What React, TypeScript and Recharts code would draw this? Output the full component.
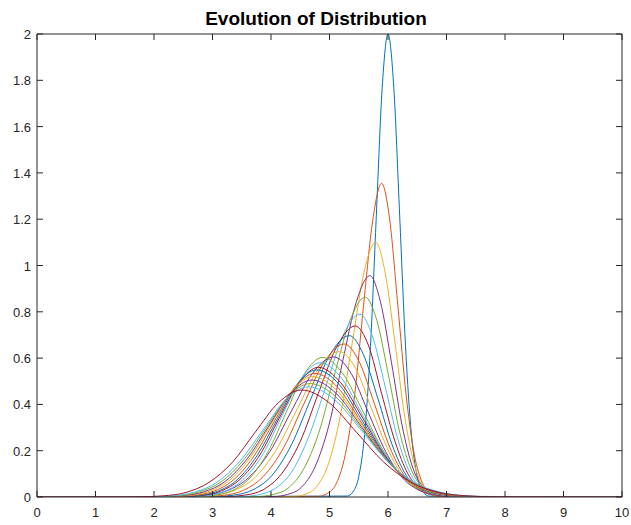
import { LineChart, Line, XAxis, YAxis } from 'recharts'

// ─── Data ────────────────────────────────────────────────────────────────────

type Pair = [number, number]

const c01: Pair[] = [[0, 0], [5.3, 0.004], [5.4, 0.022], [5.5, 0.088], [5.6, 0.271], [5.7, 0.649], [5.8, 1.213], [5.9, 1.765], [6, 2], [6.1, 1.765], [6.2, 1.213], [6.3, 0.649], [6.4, 0.271], [6.5, 0.088], [6.6, 0.022], [6.7, 0.004], [10, 0]]
const c02: Pair[] = [[0, 0], [4.81, 0.003], [4.96, 0.015], [5.12, 0.06], [5.27, 0.183], [5.43, 0.44], [5.58, 0.822], [5.74, 1.196], [5.89, 1.355], [6.03, 1.196], [6.17, 0.822], [6.31, 0.44], [6.45, 0.183], [6.59, 0.06], [6.73, 0.015], [6.87, 0.003], [10, 0]]
const c03: Pair[] = [[0, 0], [4.39, 0.002], [4.59, 0.012], [4.79, 0.048], [4.99, 0.149], [5.19, 0.357], [5.39, 0.667], [5.59, 0.971], [5.79, 1.1], [5.95, 0.971], [6.12, 0.667], [6.28, 0.357], [6.44, 0.149], [6.6, 0.048], [6.77, 0.012], [6.93, 0.002], [10, 0]]
const c04: Pair[] = [[0, 0], [4.05, 0.002], [4.28, 0.011], [4.52, 0.042], [4.75, 0.129], [4.99, 0.31], [5.22, 0.58], [5.46, 0.844], [5.69, 0.956], [5.87, 0.844], [6.06, 0.58], [6.24, 0.31], [6.42, 0.129], [6.6, 0.042], [6.79, 0.011], [6.97, 0.002], [10, 0]]
const c05: Pair[] = [[0, 0], [3.76, 0.002], [4.02, 0.01], [4.29, 0.038], [4.55, 0.117], [4.82, 0.28], [5.08, 0.523], [5.35, 0.762], [5.61, 0.863], [5.81, 0.762], [6.01, 0.523], [6.2, 0.28], [6.4, 0.117], [6.6, 0.038], [6.8, 0.01], [6.99, 0.002], [10, 0]]
const c06: Pair[] = [[0, 0], [3.47, 0.002], [3.77, 0.009], [4.06, 0.035], [4.35, 0.107], [4.64, 0.257], [4.94, 0.479], [5.23, 0.697], [5.52, 0.79], [5.73, 0.697], [5.95, 0.479], [6.16, 0.257], [6.37, 0.107], [6.58, 0.035], [6.8, 0.009], [7.01, 0.002], [10, 0]]
const c07: Pair[] = [[0, 0], [3.24, 0.002], [3.55, 0.008], [3.87, 0.032], [4.18, 0.1], [4.5, 0.24], [4.81, 0.448], [5.13, 0.652], [5.44, 0.739], [5.67, 0.652], [5.89, 0.448], [6.12, 0.24], [6.34, 0.1], [6.57, 0.032], [6.79, 0.008], [7.02, 0.002], [10, 0]]
const c08: Pair[] = [[0, 0], [3.03, 0.002], [3.36, 0.008], [3.69, 0.031], [4.02, 0.094], [4.35, 0.226], [4.68, 0.423], [5.01, 0.615], [5.34, 0.697], [5.58, 0.615], [5.83, 0.423], [6.07, 0.226], [6.31, 0.094], [6.55, 0.031], [6.8, 0.008], [7.04, 0.002], [10, 0]]
const c09: Pair[] = [[0, 0], [2.84, 0.002], [3.18, 0.007], [3.53, 0.029], [3.87, 0.089], [4.22, 0.215], [4.56, 0.401], [4.91, 0.583], [5.25, 0.661], [5.51, 0.583], [5.77, 0.401], [6.03, 0.215], [6.29, 0.089], [6.55, 0.029], [6.81, 0.007], [7.07, 0.002], [10, 0]]
const c10: Pair[] = [[0, 0], [2.65, 0.001], [3.01, 0.007], [3.37, 0.028], [3.73, 0.085], [4.09, 0.204], [4.45, 0.381], [4.81, 0.554], [5.17, 0.628], [5.45, 0.554], [5.72, 0.381], [6.0, 0.204], [6.27, 0.085], [6.55, 0.028], [6.82, 0.007], [7.1, 0.001], [10, 0]]
const c11: Pair[] = [[0, 0], [2.52, 0.001], [2.88, 0.007], [3.25, 0.027], [3.61, 0.082], [3.98, 0.196], [4.34, 0.367], [4.71, 0.534], [5.07, 0.605], [5.37, 0.534], [5.66, 0.367], [5.96, 0.196], [6.25, 0.082], [6.55, 0.027], [6.84, 0.007], [7.14, 0.001], [10, 0]]
const c12: Pair[] = [[0, 0], [2.71, 0.001], [3.02, 0.007], [3.33, 0.027], [3.64, 0.082], [3.95, 0.196], [4.26, 0.366], [4.57, 0.532], [4.88, 0.603], [5.23, 0.532], [5.58, 0.366], [5.93, 0.196], [6.28, 0.082], [6.63, 0.027], [6.98, 0.007], [7.33, 0.001], [10, 0]]
const c13: Pair[] = [[0, 0], [2.57, 0.001], [2.89, 0.006], [3.22, 0.026], [3.54, 0.079], [3.87, 0.188], [4.19, 0.352], [4.52, 0.512], [4.84, 0.58], [5.21, 0.512], [5.57, 0.352], [5.94, 0.188], [6.3, 0.079], [6.67, 0.026], [7.03, 0.006], [7.4, 0.001], [10, 0]]
const c14: Pair[] = [[0, 0], [2.47, 0.001], [2.8, 0.006], [3.14, 0.025], [3.47, 0.076], [3.81, 0.182], [4.14, 0.34], [4.48, 0.494], [4.81, 0.56], [5.19, 0.494], [5.57, 0.34], [5.94, 0.182], [6.32, 0.076], [6.7, 0.025], [7.08, 0.006], [7.45, 0.001], [10, 0]]
const c15: Pair[] = [[0, 0], [2.4, 0.001], [2.74, 0.006], [3.08, 0.024], [3.42, 0.074], [3.76, 0.178], [4.1, 0.333], [4.44, 0.485], [4.78, 0.549], [5.17, 0.485], [5.55, 0.333], [5.94, 0.178], [6.32, 0.074], [6.71, 0.024], [7.09, 0.006], [7.48, 0.001], [10, 0]]
const c16: Pair[] = [[0, 0], [2.3, 0.001], [2.65, 0.006], [3.0, 0.023], [3.35, 0.072], [3.7, 0.173], [4.05, 0.324], [4.4, 0.471], [4.75, 0.534], [5.15, 0.471], [5.54, 0.324], [5.94, 0.173], [6.33, 0.072], [6.73, 0.023], [7.12, 0.006], [7.52, 0.001], [10, 0]]
const c17: Pair[] = [[0, 0], [2.2, 0.001], [2.56, 0.006], [2.92, 0.023], [3.28, 0.07], [3.64, 0.169], [4.0, 0.315], [4.36, 0.459], [4.72, 0.52], [5.13, 0.459], [5.54, 0.315], [5.94, 0.169], [6.35, 0.07], [6.76, 0.023], [7.17, 0.006], [7.57, 0.001], [10, 0]]
const c18: Pair[] = [[0, 0], [2.11, 0.001], [2.48, 0.006], [2.85, 0.022], [3.22, 0.068], [3.59, 0.164], [3.96, 0.306], [4.33, 0.446], [4.7, 0.505], [5.12, 0.446], [5.54, 0.306], [5.96, 0.164], [6.38, 0.068], [6.8, 0.022], [7.22, 0.006], [7.64, 0.001], [10, 0]]
const c19: Pair[] = [[0, 0], [2.01, 0.001], [2.39, 0.005], [2.77, 0.022], [3.15, 0.066], [3.53, 0.159], [3.91, 0.297], [4.29, 0.432], [4.67, 0.49], [5.11, 0.432], [5.54, 0.297], [5.98, 0.159], [6.41, 0.066], [6.85, 0.022], [7.28, 0.005], [7.72, 0.001], [10, 0]]
const c20: Pair[] = [[0, 0], [1.91, 0.001], [2.3, 0.005], [2.69, 0.021], [3.08, 0.064], [3.47, 0.155], [3.86, 0.289], [4.25, 0.42], [4.64, 0.476], [5.09, 0.42], [5.54, 0.289], [5.99, 0.155], [6.44, 0.064], [6.89, 0.021], [7.34, 0.005], [7.79, 0.001], [10, 0]]
const c21: Pair[] = [[0, 0], [1.76, 0.001], [2.15, 0.005], [2.55, 0.02], [2.94, 0.063], [3.34, 0.15], [3.73, 0.28], [4.13, 0.408], [4.52, 0.462], [4.99, 0.408], [5.46, 0.28], [5.93, 0.15], [6.4, 0.063], [6.87, 0.02], [7.34, 0.005], [7.81, 0.001], [10, 0]]

const curves = [c01, c02, c03, c04, c05, c06, c07, c08, c09, c10, c11, c12, c13, c14, c15, c16, c17, c18, c19, c20, c21]

const xTicks = [0, 1, 2, 3, 4, 5, 6, 7, 8, 9, 10]
const yTicks = [0, 0.2, 0.4, 0.6, 0.8, 1, 1.2, 1.4, 1.6, 1.8, 2]

// MATLAB default color order
const palette = ['#0072BD', '#D95319', '#EDB120', '#7E2F8E', '#77AC30', '#4DBEEE', '#A2142F']

const AXIS = '#262626'
const FONT = '"Liberation Sans", Arial, Helvetica, sans-serif'
const TICK_LEN = 6

// ─── Tick renderers (MATLAB style: ticks point inward) ───────────────────────

function BottomTick({ x, y, payload }: any) {
  return (
    <g>
      <line x1={x} y1={y} x2={x} y2={y - TICK_LEN} stroke={AXIS} strokeWidth={1} />
      <text x={x} y={y + 20} textAnchor="middle" fontSize={13} fill={AXIS} fontFamily={FONT}>
        {payload.value}
      </text>
    </g>
  )
}

function TopTick({ x, y }: any) {
  return <line x1={x} y1={y} x2={x} y2={y + TICK_LEN} stroke={AXIS} strokeWidth={1} />
}

function LeftTick({ x, y, payload }: any) {
  return (
    <g>
      <line x1={x} y1={y} x2={x + TICK_LEN} y2={y} stroke={AXIS} strokeWidth={1} />
      <text x={x - 6} y={y + 5} textAnchor="end" fontSize={13} fill={AXIS} fontFamily={FONT}>
        {payload.value}
      </text>
    </g>
  )
}

function RightTick({ x, y }: any) {
  return <line x1={x} y1={y} x2={x - TICK_LEN} y2={y} stroke={AXIS} strokeWidth={1} />
}

// ─── Component ────────────────────────────────────────────────────────────────

export default function App() {
  return (
    <div style={{ position: 'absolute', left: 0, top: 0, width: 631, height: 525, background: '#fff' }}>
      <LineChart width={631} height={525} margin={{ top: 0, right: 0, bottom: 0, left: 0 }}>
        <XAxis
          xAxisId="b"
          type="number"
          dataKey="x"
          domain={[0, 10]}
          ticks={xTicks}
          interval={0}
          tickSize={0}
          tickMargin={0}
          height={28}
          axisLine={{ stroke: AXIS }}
          tickLine={false}
          tick={<BottomTick />}
          allowDataOverflow
        />
        <XAxis
          xAxisId="t"
          orientation="top"
          type="number"
          dataKey="x"
          domain={[0, 10]}
          ticks={xTicks}
          interval={0}
          tickSize={0}
          tickMargin={0}
          height={34}
          axisLine={{ stroke: AXIS }}
          tickLine={false}
          tick={<TopTick />}
          allowDataOverflow
        />
        <YAxis
          yAxisId="l"
          type="number"
          domain={[0, 2]}
          ticks={yTicks}
          interval={0}
          tickSize={0}
          tickMargin={0}
          width={37}
          axisLine={{ stroke: AXIS }}
          tickLine={false}
          tick={<LeftTick />}
          allowDataOverflow
        />
        <YAxis
          yAxisId="r"
          orientation="right"
          type="number"
          domain={[0, 2]}
          ticks={yTicks}
          interval={0}
          tickSize={0}
          tickMargin={0}
          width={9}
          axisLine={{ stroke: AXIS }}
          tickLine={false}
          tick={<RightTick />}
          allowDataOverflow
        />
        {/* invisible series so the box axes (top / right) get their scales */}
        <Line
          xAxisId="t"
          yAxisId="r"
          data={c01.map(([x, y]) => ({ x, y }))}
          dataKey="y"
          stroke="none"
          dot={false}
          activeDot={false}
          isAnimationActive={false}
        />
        {curves.map((c, i) => (
          <Line
            key={i}
            xAxisId="b"
            yAxisId="l"
            data={c.map(([x, y]) => ({ x, y }))}
            dataKey="y"
            type="monotone"
            stroke={palette[i % palette.length]}
            strokeWidth={1}
            dot={false}
            activeDot={false}
            isAnimationActive={false}
          />
        ))}
        <text x={316} y={25} textAnchor="middle" fontSize={19} fontWeight="bold" fill="#000" fontFamily={FONT}>
          Evolution of Distribution
        </text>
      </LineChart>
    </div>
  )
}
